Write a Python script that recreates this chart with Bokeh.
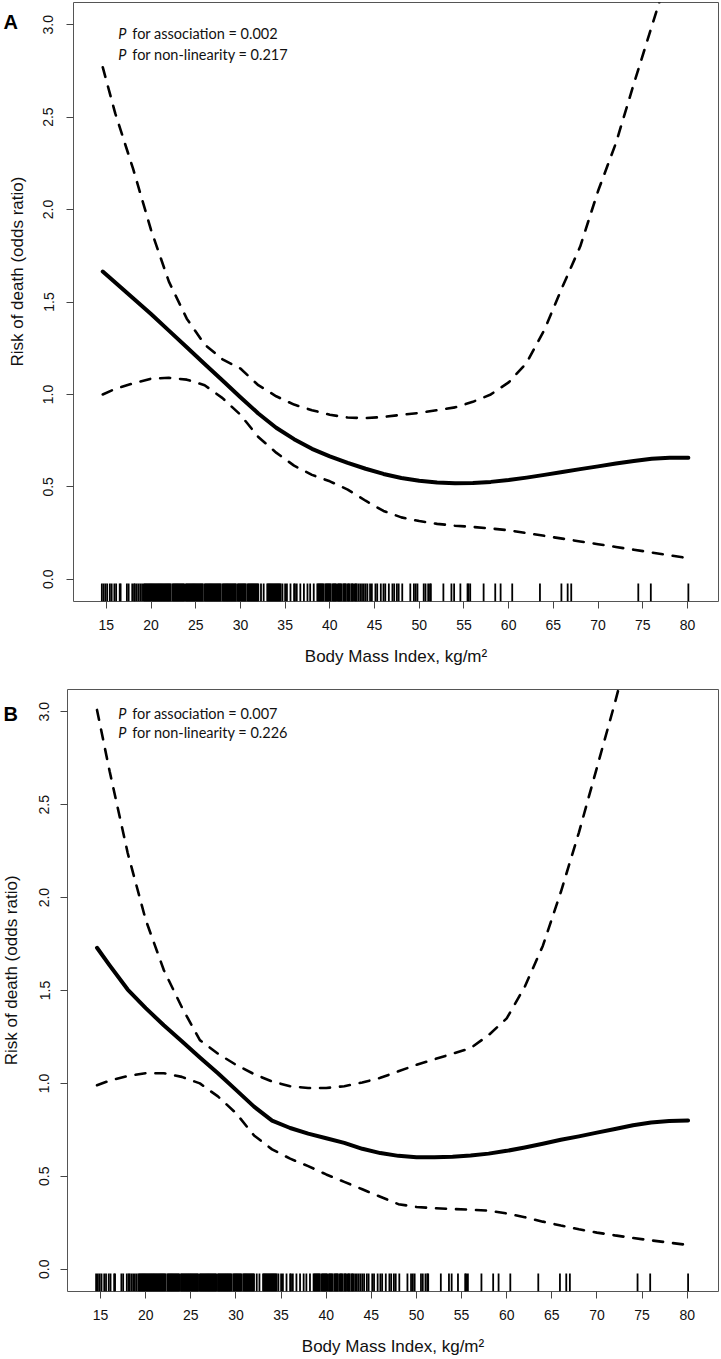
import math
from bokeh.plotting import figure
from bokeh.models import (Range1d, FixedTicker, PrintfTickFormatter, Label,
                          ColumnDataSource)
from bokeh.layouts import column, row
from bokeh.core.properties import value
from bokeh.embed import file_html
from bokeh.resources import INLINE

# ---------------- data ----------------
bmi_grid = [14.6, 16, 18, 20, 22, 24, 26, 28, 30, 32, 34, 36, 38, 40, 42, 44, 46, 48,
            50, 52, 54, 56, 58, 60, 62, 64, 66, 68, 70, 72, 74, 76, 78, 80.1]

# Panel A (odds ratio, lower and upper 95% limits)
or_a = [1.665, 1.605, 1.52, 1.435, 1.345, 1.255, 1.165, 1.075, 0.985, 0.897, 0.82, 0.758,
        0.706, 0.665, 0.63, 0.598, 0.57, 0.548, 0.533, 0.524, 0.52, 0.521, 0.527, 0.537,
        0.55, 0.565, 0.58, 0.596, 0.611, 0.626, 0.64, 0.652, 0.657, 0.658]
lo_a = [1.0, 1.03, 1.06, 1.085, 1.09, 1.08, 1.05, 0.98, 0.89, 0.77, 0.685, 0.615, 0.565, 0.53,
        0.485, 0.425, 0.37, 0.335, 0.315, 0.30, 0.29, 0.283, 0.275, 0.265, 0.25, 0.235, 0.22,
        0.205, 0.19, 0.175, 0.16, 0.145, 0.13, 0.114]
hi_a = [2.77, 2.52, 2.22, 1.89, 1.61, 1.41, 1.27, 1.19, 1.14, 1.05, 0.99, 0.945, 0.915, 0.89,
        0.875, 0.872, 0.878, 0.89, 0.90, 0.915, 0.93, 0.96, 1.0, 1.065, 1.17, 1.35, 1.58,
        1.80, 2.10, 2.36, 2.68, 2.99, 3.30, 3.62]

# Panel B
or_b = [1.73, 1.635, 1.505, 1.405, 1.313, 1.227, 1.14, 1.055, 0.965, 0.875, 0.80, 0.76, 0.73,
        0.705, 0.68, 0.648, 0.625, 0.61, 0.603, 0.602, 0.605, 0.612, 0.622, 0.637, 0.655,
        0.675, 0.697, 0.715, 0.735, 0.755, 0.775, 0.79, 0.797, 0.80]
lo_b = [0.99, 1.015, 1.04, 1.055, 1.055, 1.035, 1.0, 0.93, 0.84, 0.72, 0.645, 0.595, 0.555,
        0.51, 0.47, 0.43, 0.39, 0.35, 0.335, 0.328, 0.324, 0.32, 0.315, 0.30, 0.28, 0.256,
        0.235, 0.215, 0.197, 0.182, 0.168, 0.155, 0.143, 0.13]
hi_b = [3.01, 2.68, 2.24, 1.88, 1.61, 1.41, 1.233, 1.16, 1.10, 1.05, 1.01, 0.985, 0.975,
        0.975, 0.985, 1.005, 1.03, 1.065, 1.10, 1.13, 1.16, 1.19, 1.26, 1.35, 1.52, 1.74,
        2.03, 2.35, 2.70, 3.05, 3.42, 3.80, 4.20, 4.60]

# observed BMI values (rug)
rug_bmi = [
    14.5, 14.7, 14.9, 15.1, 15.4, 15.6, 15.9, 16.1, 16.5, 16.6, 17.3, 17.5, 17.9, 18.1, 18.2,
    18.4, 18.6, 18.8, 19.0,
    19.2, 19.3, 19.4, 19.5, 19.6, 19.7, 19.8, 19.9, 20.0, 20.1, 20.2, 20.3, 20.4, 20.5, 20.6,
    20.7, 20.8, 20.9, 21.0, 21.1, 21.2, 21.3, 21.4, 21.5, 21.6, 21.7, 21.8, 21.9, 22.0, 22.1,
    22.2, 22.4, 22.5, 22.6, 22.7, 22.8, 22.9, 23.0, 23.1, 23.2, 23.3, 23.4, 23.5, 23.6, 23.7,
    23.9, 24.0, 24.1, 24.2, 24.3, 24.4, 24.5, 24.6, 24.7, 24.8, 24.9, 25.0, 25.1, 25.2, 25.3,
    25.4, 25.5, 25.6, 25.7, 25.8, 26.0, 26.1, 26.2, 26.3, 26.4, 26.5, 26.6, 26.7, 26.8, 26.9,
    27.0, 27.1, 27.2, 27.3, 27.4, 27.5, 27.6, 27.7, 27.8, 28.0, 28.1, 28.2, 28.3, 28.4, 28.5,
    28.6, 28.7, 28.8, 28.9, 29.0, 29.1, 29.2, 29.3, 29.4, 29.5, 29.7, 29.8, 29.9, 30.0, 30.1,
    30.2, 30.3, 30.4, 30.5, 30.6, 30.8, 30.9, 31.0, 31.1, 31.2, 31.3, 31.4, 31.5, 31.6, 31.7,
    31.8, 31.9, 32.0,
    32.3, 32.6, 33.0, 33.1, 33.2, 33.3, 33.4, 33.5, 33.6, 33.7, 33.8, 33.9, 34.0, 34.1, 34.2,
    34.3, 34.4, 34.5, 34.7, 35.0, 35.2, 35.6, 36.0, 36.1, 36.3, 36.7, 37.1, 37.5, 37.8, 38.2,
    38.6, 38.7, 38.8, 38.9, 39.0, 39.1, 39.2, 39.3, 39.5, 39.6, 39.7, 39.8, 39.9, 40.0, 40.1,
    40.3, 40.4, 40.5, 40.6, 40.7, 40.9, 41.0, 41.1, 41.2, 41.3, 41.5, 41.6, 41.7, 41.8, 42.0,
    42.1, 42.2, 42.4, 42.5, 42.6, 42.8, 42.9, 43.0, 43.2, 43.4,
    43.6, 43.8, 44.0, 44.2, 44.5, 44.7, 45.1, 45.3, 45.7, 46.0, 46.2, 46.6, 47.0, 47.2, 47.5,
    47.7, 48.1,
    49.0, 49.4, 49.6, 49.8, 50.5, 50.7, 51.0, 51.2, 51.3, 52.7, 53.6, 53.9, 54.6, 55.4, 55.5,
    55.7, 57.2, 58.5, 59.1, 60.4, 63.5, 65.9, 66.6, 67.0, 74.5, 75.9, 80.1]

x_ticks = [15, 20, 25, 30, 35, 40, 45, 50, 55, 60, 65, 70, 75, 80]
y_ticks = [0.0, 0.5, 1.0, 1.5, 2.0, 2.5, 3.0]
panel_letters = ["A", "B"]
p_assoc = ["0.002", "0.007"]
p_nonlin = ["0.217", "0.226"]
x_title = "Body Mass Index, kg/m²"
y_title = "Risk of death (odds ratio)"

X0, X1 = 11.33, 83.47
Y0, Y1 = -0.12, 3.12

SANS = "Liberation Sans"
NOTE = "Lato"
STRIP_W = 27


def make_panel(est, lo, hi, pa, pn, width, height, bl, br, bt, bb,
               note_x, note_y1, note_y2, ystand):
    p = figure(width=width, height=height,
               x_range=Range1d(X0, X1), y_range=Range1d(Y0, Y1),
               output_backend="svg", toolbar_location=None,
               min_border_left=bl, min_border_right=br,
               min_border_top=bt, min_border_bottom=bb,
               x_axis_label=x_title)
    p.grid.visible = False
    p.outline_line_color = "#555555"
    p.outline_line_width = 1
    p.background_fill_color = "white"
    p.border_fill_color = "white"

    p.xaxis.ticker = FixedTicker(ticks=x_ticks)
    p.yaxis.ticker = FixedTicker(ticks=y_ticks)
    p.yaxis.formatter = PrintfTickFormatter(format="%.1f")
    for ax in (p.xaxis[0], p.yaxis[0]):
        ax.axis_line_color = None
        ax.major_tick_line_color = "#444444"
        ax.major_tick_in = 0
        ax.major_tick_out = 7
        ax.minor_tick_line_color = None
        ax.major_label_text_font = SANS
        ax.major_label_text_font_size = "14px"
        ax.major_label_text_color = "#111111"
        ax.axis_label_text_font = SANS
        ax.axis_label_text_font_size = "17px"
        ax.axis_label_text_font_style = "normal"
        ax.axis_label_text_color = "#111111"
    p.xaxis.major_label_standoff = 11
    p.xaxis.axis_label_standoff = 14
    p.yaxis.major_label_orientation = "vertical"
    p.yaxis.major_label_standoff = ystand

    # rug of observations
    rug_top = Y0 + 0.03 * (Y1 - Y0)
    rug_src = ColumnDataSource(dict(x=rug_bmi, y0=[Y0] * len(rug_bmi),
                                    y1=[rug_top] * len(rug_bmi)))
    p.segment(x0="x", x1="x", y0="y0", y1="y1", source=rug_src,
              line_color="black", line_width=1.8)

    src = ColumnDataSource(dict(x=bmi_grid, est=est, lo=lo, hi=hi))
    p.line("x", "hi", source=src, line_color="black", line_width=2.6,
           line_dash="10 10", line_cap="round")
    p.line("x", "lo", source=src, line_color="black", line_width=2.6,
           line_dash="10 10", line_cap="round")
    p.line("x", "est", source=src, line_color="black", line_width=4,
           line_join="round", line_cap="round")

    for yv, txt in ((note_y1, "for association = " + pa),
                    (note_y2, "for non-linearity = " + pn)):
        p.add_layout(Label(x=note_x, y=yv, text="P", text_font=NOTE,
                           text_font_style="italic", text_font_size="14.5px",
                           text_baseline="middle", text_color="#111111"))
        p.add_layout(Label(x=note_x, y=yv, x_offset=14, text=txt, text_font=NOTE,
                           text_font_size="14.5px", text_baseline="middle",
                           text_color="#111111"))
    return p


def make_strip(letter, height, letter_base, title_x, title_y):
    """Left strip holding the panel letter and the y-axis title."""
    f = figure(width=STRIP_W, height=height,
               x_range=Range1d(0, STRIP_W), y_range=Range1d(height, 0),
               output_backend="svg", toolbar_location=None, min_border=0,
               x_axis_type=None, y_axis_type=None)
    f.grid.visible = False
    f.outline_line_color = None
    f.background_fill_color = "white"
    f.border_fill_color = "white"
    f.text(x=[3], y=[letter_base], text=[letter], text_font=value(SANS),
           text_font_style="bold", text_font_size="20px",
           text_baseline="alphabetic", text_align="left", text_color="black")
    f.text(x=[title_x], y=[title_y], text=[y_title], text_font=value(SANS),
           text_font_size="17px", text_baseline="middle", text_align="center",
           angle=math.pi / 2, text_color="#111111")
    return f


H_A, H_B = 670, 688

pa_fig = make_panel(or_a, lo_a, hi_a, p_assoc[0], p_nonlin[0],
                    width=720 - STRIP_W, height=H_A, bl=73 - STRIP_W, br=2, bt=2, bb=69,
                    note_x=16.34, note_y1=2.95, note_y2=2.84, ystand=13)
pb_fig = make_panel(or_b, lo_b, hi_b, p_assoc[1], p_nonlin[1],
                    width=720 - STRIP_W, height=H_B, bl=67 - STRIP_W, br=2, bt=19, bb=65,
                    note_x=16.94, note_y1=2.99, note_y2=2.89, ystand=11)

strip_a = make_strip(panel_letters[0], H_A, 22, 17, 301)
strip_b = make_strip(panel_letters[1], H_B, 28, 10.5, 321)

layout = column(row(strip_a, pa_fig, spacing=0), row(strip_b, pb_fig, spacing=0), spacing=0)
open("out.html", "w").write(file_html(layout, INLINE))
